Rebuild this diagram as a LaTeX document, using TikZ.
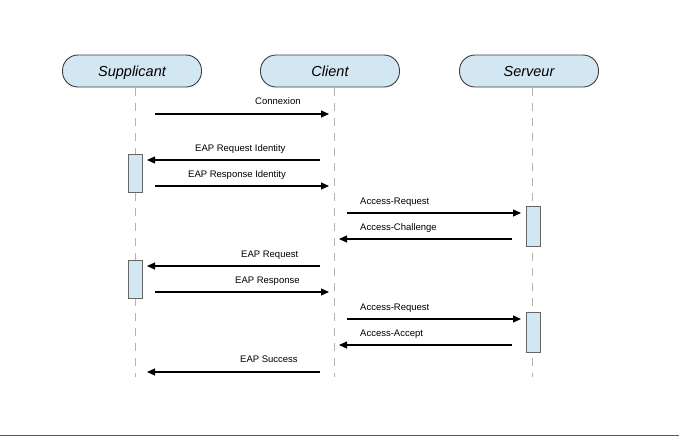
\documentclass[tikz,border=0pt]{standalone}
\usepackage{fontspec}
\setmainfont{Liberation Sans}
\usetikzlibrary{arrows.meta}
\definecolor{hdrfill}{HTML}{D3E7F3}
\definecolor{actfill}{HTML}{D3E7F3}
\definecolor{hdrline}{HTML}{3C3C3C}
\definecolor{lifegray}{HTML}{B4B4B4}
\tikzset{
  actor/.style={draw=hdrline, line width=0.9pt, fill=hdrfill, rounded corners=15.5pt,
    minimum width=139pt, minimum height=32pt, inner sep=0pt,
    text height=12pt, text depth=2pt,
    font=\fontsize{14.5}{16}\selectfont\itshape},
  lifeline/.style={draw=lifegray, line width=1pt, dash pattern=on 8pt off 7pt},
  actbox/.style={draw=gray!80!black, line width=0.7pt, fill=actfill},
  msg/.style={draw=black, line width=1.1pt, -{Triangle[length=8pt,width=7pt]}},
  lbl/.style={font=\fontsize{9.5}{11}\selectfont, inner sep=0pt, anchor=base west}
}
\begin{document}
\begin{tikzpicture}[x=1pt,y=-1pt]
\useasboundingbox (0,0) rectangle (679,437);
\fill[white] (0,0) rectangle (679,437);
\draw[draw=gray!70!black, line width=1.5pt] (0,435.5) -- (679,435.5);

% actors
\node[actor] (sup) at (132,71) {Supplicant};
\node[actor] (cli) at (330,71) {Client};
\node[actor] (srv) at (529,71) {Serveur};

% lifelines
\coordinate (supT) at (135,88); \coordinate (supB) at (135,377);
\coordinate (cliT) at (334,88); \coordinate (cliB) at (334,377);
\coordinate (srvT) at (532,88); \coordinate (srvB) at (532,377);
\draw[lifeline] (supT) -- (supB);
\draw[lifeline] (cliT) -- (cliB);
\draw[lifeline] (srvT) -- (srvB);

% activation boxes
\node[actbox, minimum width=14pt, minimum height=38pt, inner sep=0pt] (a1) at (135,173) {};
\node[actbox, minimum width=14pt, minimum height=38pt, inner sep=0pt] (a2) at (135,279) {};
\node[actbox, minimum width=14pt, minimum height=40pt, inner sep=0pt] (b1) at (533,226) {};
\node[actbox, minimum width=14pt, minimum height=40pt, inner sep=0pt] (b2) at (533,332) {};

% message endpoints
\coordinate (m1s) at (155,114); \coordinate (m1e) at (329,114);
\coordinate (m2s) at (320,160); \coordinate (m2e) at (147,160);
\coordinate (m3s) at (155,186); \coordinate (m3e) at (329,186);
\coordinate (m4s) at (347,213); \coordinate (m4e) at (521,213);
\coordinate (m5s) at (512,239); \coordinate (m5e) at (339,239);
\coordinate (m6s) at (320,266); \coordinate (m6e) at (147,266);
\coordinate (m7s) at (155,292); \coordinate (m7e) at (329,292);
\coordinate (m8s) at (347,319); \coordinate (m8e) at (521,319);
\coordinate (m9s) at (512,345); \coordinate (m9e) at (339,345);
\coordinate (m10s) at (320,372); \coordinate (m10e) at (147,372);

\draw[msg] (m1s) -- (m1e);
\draw[msg] (m2s) -- (m2e);
\draw[msg] (m3s) -- (m3e);
\draw[msg] (m4s) -- (m4e);
\draw[msg] (m5s) -- (m5e);
\draw[msg] (m6s) -- (m6e);
\draw[msg] (m7s) -- (m7e);
\draw[msg] (m8s) -- (m8e);
\draw[msg] (m9s) -- (m9e);
\draw[msg] (m10s) -- (m10e);

% labels
\node[lbl] (l1) at (255,104) {Connexion};
\node[lbl] (l2) at (195,151) {EAP Request Identity};
\node[lbl] (l3) at (188,177) {EAP Response Identity};
\node[lbl] (l4) at (360,204) {Access-Request};
\node[lbl] (l5) at (360,230) {Access-Challenge};
\node[lbl] (l6) at (241,257) {EAP Request};
\node[lbl] (l7) at (235,283) {EAP Response};
\node[lbl] (l8) at (360,310) {Access-Request};
\node[lbl] (l9) at (360,336) {Access-Accept};
\node[lbl] (l10) at (240,362) {EAP Success};
\end{tikzpicture}
\end{document}
